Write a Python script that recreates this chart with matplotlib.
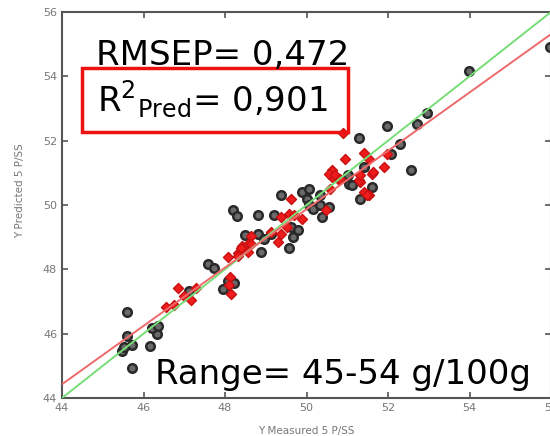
import matplotlib
matplotlib.use("Agg")
import matplotlib.pyplot as plt
from matplotlib.patches import Rectangle

# Calibration points (black circles)
cal_x = [45.60, 45.60, 45.73, 45.48, 45.53, 45.73, 46.17, 46.32, 46.20, 46.35,
         47.58, 47.73, 48.07, 48.22, 47.95, 47.11, 48.20, 48.30, 48.49, 48.81,
         49.21, 48.81, 48.96, 48.89, 49.14, 49.38, 49.88, 50.07, 50.00, 50.32,
         50.05, 50.17, 50.32, 50.37, 50.54, 49.63, 49.80, 49.68, 49.56, 51.04,
         51.11, 51.60, 51.31, 51.98, 52.72, 52.96, 51.28, 52.30, 52.07, 51.41,
         51.01, 52.57, 53.98, 55.98]
cal_y = [46.68, 45.94, 45.66, 45.45, 45.57, 44.92, 45.63, 46.00, 46.18, 46.25,
         48.18, 48.03, 47.63, 47.57, 47.38, 47.32, 49.85, 49.66, 49.08, 49.69,
         49.69, 49.11, 48.95, 48.55, 49.11, 50.31, 50.40, 50.49, 50.18, 50.31,
         50.00, 49.88, 50.00, 49.63, 49.94, 49.32, 49.23, 49.02, 48.65, 50.65,
         50.62, 50.55, 50.18, 52.46, 52.52, 52.86, 52.09, 51.91, 51.57, 51.17,
         50.92, 51.08, 54.18, 54.92]

# Validation points (red diamonds)
val_x = [46.54, 46.74, 46.84, 47.28, 47.16, 46.99, 48.07, 48.12, 48.15, 48.10,
         48.32, 48.42, 48.57, 48.64, 49.63, 49.38, 49.56, 49.70, 49.88, 49.51,
         49.38, 49.31, 49.14, 48.64, 48.40, 48.57, 48.32, 50.57, 50.49, 50.62,
         50.79, 51.31, 51.41, 51.60, 51.53, 50.89, 50.94, 51.41, 51.53, 51.98,
         51.90, 51.63, 50.62, 50.54, 50.69, 50.81, 51.28, 51.31, 51.48]
val_y = [46.83, 46.89, 47.42, 47.42, 47.05, 47.17, 48.37, 47.75, 47.23, 47.51,
         48.52, 48.71, 48.80, 49.05, 50.18, 49.63, 49.72, 49.69, 49.57, 49.32,
         49.11, 48.86, 49.17, 48.80, 48.65, 48.55, 48.40, 50.49, 49.85, 50.86,
         50.77, 50.71, 50.40, 50.95, 50.31, 52.25, 51.42, 51.63, 51.42, 51.57,
         51.17, 51.02, 51.08, 50.95, 50.92, 50.80, 50.77, 50.92, 50.31]

# Lines: ideal (y = x) and fitted regression
ideal_slope, ideal_intercept = 1.0, 0.0
fit_slope, fit_intercept = 0.907, 4.52
axis_range = [44, 56]
ticks = [44, 46, 48, 50, 52, 54, 56]

rmsep_text = "RMSEP= 0,472"
r2_text = r"R$^{2}$$_{\mathregular{Pred}}$= 0,901"
range_text = "Range= 45-54 g/100g"

fig = plt.figure(figsize=(5.5, 4.36), dpi=100)
ax = fig.add_axes([62/550, 38/436, 489/550, 386/436])

ax.scatter(cal_x, cal_y, s=38, marker='o', facecolor='#6a6a6a',
           edgecolor='#2a2a2a', linewidths=1.8, zorder=2)
ax.scatter(val_x, val_y, s=26, marker='D', facecolor='#ee1c1c',
           edgecolor='#c81010', linewidths=1.0, zorder=2)

ax.plot(axis_range, [ideal_slope * v + ideal_intercept for v in axis_range],
        color='#77dd77', lw=1.4, zorder=3)
ax.plot(axis_range, [fit_slope * v + fit_intercept for v in axis_range],
        color='#ee6a6a', lw=1.4, zorder=3)

ax.set_xlim(axis_range)
ax.set_ylim(axis_range)
ax.set_xticks(ticks)
ax.set_yticks(ticks)
ax.tick_params(direction='in', length=4, width=1.2, colors='#555555',
               labelcolor='#777777', labelsize=8, top=True, right=True)
for s in ax.spines.values():
    s.set_color('#555555')
    s.set_linewidth(1.5)

ax.set_xlabel("Y Measured 5 P/SS", fontsize=7.5, color='#777777')
ax.set_ylabel("Y Predicted 5 P/SS", fontsize=7.5, color='#777777')
ax.xaxis.set_label_coords(0.499, -0.072)
ax.yaxis.set_label_coords(-0.076, 0.536)

fam = ['DejaVu Sans']
fig.text(96/550, 1 - 65/436, rmsep_text, fontsize=24.5, family=fam,
         ha='left', va='baseline')
fig.text(97/550, 1 - 112/436, r2_text, fontsize=24.5, family=fam,
         ha='left', va='baseline')
fig.text(155/550, 1 - 384/436, range_text, fontsize=24.5, family=fam,
         ha='left', va='baseline')
fig.patches.append(Rectangle((82/550, 1 - 132/436), 266/550, 64/436,
                             transform=fig.transFigure, fill=False,
                             edgecolor='#ee1111', lw=2.5))

fig.savefig("out.png", dpi=100)
